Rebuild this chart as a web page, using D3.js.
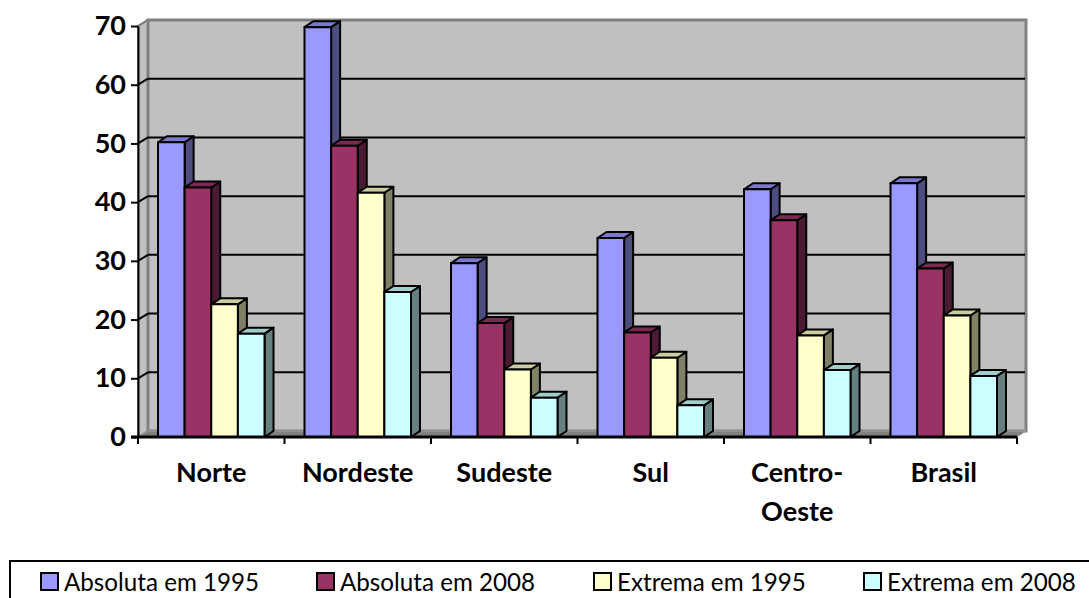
<!DOCTYPE html>
<html>
<head>
<meta charset="utf-8">
<script src="https://cdn.jsdelivr.net/npm/d3@7"></script>
<style>
  html, body { margin: 0; padding: 0; background: #fff; overflow: hidden; }
  text { font-family: Lato, "Noto Sans", sans-serif; fill: #000; }
</style>
</head>
<body>
<svg id="chart" width="1089" height="598"></svg>
<script>
var categories = ["Norte", "Nordeste", "Sudeste", "Sul", "Centro-Oeste", "Brasil"];
var seriesNames = ["Absoluta em 1995", "Absoluta em 2008", "Extrema em 1995", "Extrema em 2008"];
var absoluta1995 = [50.2, 69.8, 29.6, 33.9, 42.2, 43.2];
var absoluta2008 = [42.5, 49.6, 19.4, 17.8, 36.9, 28.7];
var extrema1995 = [22.6, 41.6, 11.5, 13.5, 17.3, 20.7];
var extrema2008 = [17.6, 24.7, 6.7, 5.4, 11.4, 10.4];
var yTicks = [0, 10, 20, 30, 40, 50, 60, 70];

var allSeries = [absoluta1995, absoluta2008, extrema1995, extrema2008];
var frontColors = ["#9999ff", "#993366", "#ffffcc", "#ccffff"];
var topColors = ["#7a7acc", "#7a2952", "#ccccA3", "#a3cccc"];
var sideColors = ["#4d4d80", "#4d1a33", "#808066", "#668080"];

var svg = d3.select("#chart");

var left = 138, right = 1017, base = 437, top70 = 26;
var depthX = 9, depthY = -6;
var wallX = 10, wallY = -6;

var x = d3.scaleBand().domain(categories).range([left, right]);
var inner = d3.scaleBand().domain(d3.range(4)).range([20, 126.5]);
var y = d3.scaleLinear().domain([0, 70]).range([base, top70]);

// back wall, side wall and floor
svg.append("polygon")
  .attr("points", [[left, base], [left + wallX, base + wallY], [left + wallX, y(70) + wallY], [left, y(70)]].join(" "))
  .attr("fill", "#c0c0c0").attr("stroke", "#808080").attr("stroke-width", 2);
svg.append("rect")
  .attr("x", left + wallX).attr("y", y(70) + wallY)
  .attr("width", right - left - 1).attr("height", base - y(70))
  .attr("fill", "#c0c0c0").attr("stroke", "#808080").attr("stroke-width", 3);
svg.append("polygon")
  .attr("points", [[left, base], [right, base], [right + wallX - 1, base + wallY], [left + wallX, base + wallY]].join(" "))
  .attr("fill", "#808080").attr("stroke", "#a0a0a0").attr("stroke-width", 1);

// gridlines on wall, with the short diagonal on the side wall
yTicks.forEach(function (t) {
  if (t === 0) return;
  if (t !== 70) {
    svg.append("line")
      .attr("x1", left + wallX).attr("x2", right + wallX - 2)
      .attr("y1", y(t) + wallY).attr("y2", y(t) + wallY)
      .attr("stroke", "#000").attr("stroke-width", 2);
  }
  svg.append("line")
    .attr("x1", left).attr("x2", left + wallX)
    .attr("y1", y(t)).attr("y2", y(t) + wallY)
    .attr("stroke", t === 70 ? "#808080" : "#000").attr("stroke-width", 2);
});

// bars, back to front per group
categories.forEach(function (c, i) {
  allSeries.forEach(function (vals, s) {
    var x0 = x(c) + inner(s);
    var w = inner.bandwidth();
    var y0 = y(vals[i]);
    var g = svg.append("g").attr("stroke", "#000").attr("stroke-width", 2).attr("stroke-linejoin", "round");
    g.append("polygon")
      .attr("points", [[x0 + w, y0], [x0 + w + depthX, y0 + depthY], [x0 + w + depthX, base + depthY], [x0 + w, base]].join(" "))
      .attr("fill", sideColors[s]);
    g.append("polygon")
      .attr("points", [[x0, y0], [x0 + depthX, y0 + depthY], [x0 + w + depthX, y0 + depthY], [x0 + w, y0]].join(" "))
      .attr("fill", topColors[s]);
    g.append("rect")
      .attr("x", x0).attr("y", y0).attr("width", w).attr("height", base - y0)
      .attr("fill", frontColors[s]);
  });
});

// axes
var yAxis = d3.axisLeft(y).tickValues(yTicks).tickSize(7).tickPadding(5).tickSizeOuter(0);
var gy = svg.append("g").attr("transform", "translate(" + left + ",0)").call(yAxis);
gy.select(".domain").attr("stroke", "#000").attr("stroke-width", 2);
gy.selectAll(".tick line").attr("stroke", "#000").attr("stroke-width", 2);
gy.selectAll(".tick text")
  .attr("font-family", "Lato").attr("font-size", 27).attr("font-weight", "bold");

var gx = svg.append("g").attr("transform", "translate(0," + base + ")");
gx.append("line").attr("x1", left - 7).attr("x2", right).attr("stroke", "#000").attr("stroke-width", 3);
d3.range(categories.length + 1).forEach(function (i) {
  var tx = left + i * x.step();
  gx.append("line").attr("x1", tx).attr("x2", tx).attr("y1", 0).attr("y2", 7)
    .attr("stroke", "#000").attr("stroke-width", 2);
});
categories.forEach(function (c) {
  var parts = c === "Centro-Oeste" ? ["Centro-", "Oeste"] : [c];
  parts.forEach(function (p, j) {
    gx.append("text")
      .attr("x", x(c) + x.bandwidth() / 2)
      .attr("y", 45 + j * 39)
      .attr("text-anchor", "middle")
      .attr("font-size", 27).attr("font-weight", "bold")
      .text(p);
  });
});

// legend, its right and bottom edges run off the picture
svg.append("rect")
  .attr("x", 10).attr("y", 561).attr("width", 1100).attr("height", 50)
  .attr("fill", "#fff").attr("stroke", "#000").attr("stroke-width", 2);
var legendX = [41, 317, 594, 864];
seriesNames.forEach(function (n, s) {
  svg.append("rect")
    .attr("x", legendX[s]).attr("y", 573).attr("width", 17).attr("height", 17)
    .attr("fill", frontColors[s]).attr("stroke", "#000").attr("stroke-width", 2);
  svg.append("text")
    .attr("x", legendX[s] + 23).attr("y", 591)
    .attr("font-size", 24.2)
    .text(n);
});
</script>
</body>
</html>
